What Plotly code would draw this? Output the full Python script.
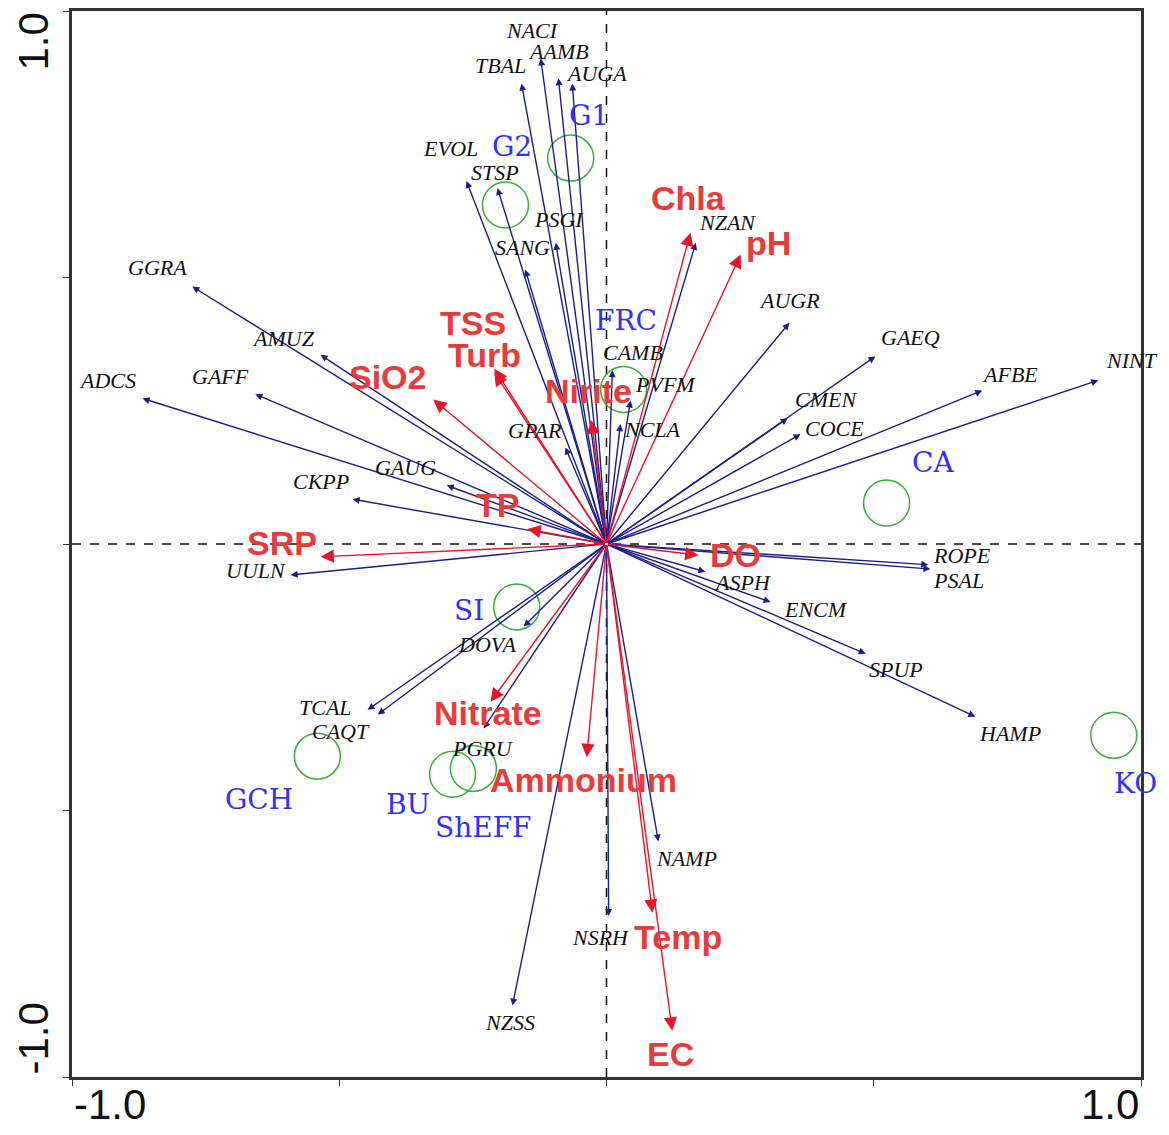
import plotly.graph_objects as go

# ---------------- data (CCA biplot scores) ----------------
species = ["NACI", "AAMB", "TBAL", "AUGA", "EVOL", "STSP", "PSGI", "SANG", "GGRA", "AMUZ",
           "ADCS", "GAFF", "GAUG", "CKPP", "UULN", "GPAR", "CAMB", "PVFM", "NCLA", "NZAN",
           "AUGR", "GAEQ", "CMEN", "COCE", "AFBE", "NINT", "ROPE", "PSAL", "ASPH", "ENCM",
           "SPUP", "HAMP", "DOVA", "TCAL", "CAQT", "PGRU", "NAMP", "NSRH", "NZSS"]
sp_x = [-0.123, -0.090, -0.159, -0.064, -0.262, -0.204, -0.095, -0.152, -0.775, -0.535,
        -0.868, -0.657, -0.299, -0.475, -0.591, -0.077, 0.011, 0.045, 0.026, 0.167,
        0.342, 0.503, 0.339, 0.363, 0.703, 0.920, 0.602, 0.606, 0.185, 0.307,
        0.485, 0.690, -0.155, -0.447, -0.428, -0.230, 0.097, 0.004, -0.176]
sp_y = [0.911, 0.874, 0.864, 0.864, 0.681, 0.668, 0.565, 0.515, 0.483, 0.355,
        0.273, 0.281, 0.110, 0.084, -0.058, 0.181, 0.326, 0.269, 0.225, 0.565,
        0.415, 0.352, 0.236, 0.206, 0.288, 0.307, -0.039, -0.047, -0.052, -0.109,
        -0.206, -0.324, -0.155, -0.311, -0.320, -0.346, -0.558, -0.698, -0.866]

env = ["Chla", "pH", "TSS", "Turb", "SiO2", "Nirite", "TP", "SRP", "DO",
       "Nitrate", "Ammonium", "Temp", "EC"]
env_x = [0.157, 0.251, -0.210, -0.210, -0.324, -0.028, -0.148, -0.535, 0.172,
         -0.217, -0.037, 0.086, 0.123]
env_y = [0.584, 0.543, 0.329, 0.322, 0.271, 0.232, 0.028, -0.024, -0.021,
         -0.296, -0.400, -0.692, -0.913]

samples = ["G1", "G2", "FRC", "CA", "SI", "GCH", "BU", "ShEFF", "KO"]
smp_x = [-0.067, -0.189, 0.032, 0.524, -0.168, -0.541, -0.288, -0.249, 0.949]
smp_y = [0.724, 0.636, 0.290, 0.077, -0.118, -0.398, -0.432, -0.421, -0.359]

axis_ticks = [-1.0, -0.5, 0.0, 0.5, 1.0]
tick_text = ["-1.0", "1.0"]

# ---------------- label placement (pixel offsets, y downward) ----------------
sp_off = [(-8, -28), (0, -27), (-21, -18), (24, -10), (-16, -33), (-2, -15), (3, -23), (-3, -22),
          (-35, -19), (-37, -16), (-35, -18), (-35, -18), (-41, -18), (-32, -18), (-35, -4),
          (-30, -17), (21, -18), (35, -16), (32, 5), (32, -20), (0, -22), (35, -19), (38, -19),
          (34, -6), (28, -16), (34, -20), (34, -9), (28, 11), (37, 11), (45, 7), (30, 16),
          (35, 17), (-36, 18), (-42, -2), (-37, 17), (-1, 20), (28, 17), (-8, 21), (-2, 17)]
env_off = [(-2, -35), (28, -12), (-21, -46), (-10, -17), (-46, -23), (-3, -29), (-30, -24),
           (-39, -14), (37, 0), (-3, 11), (-3, 23), (26, 24), (-2, 23)]
smp_off = [(18, -43), (7, -59), (2, -69), (46, -40), (-48, 4), (-58, 43), (-45, 30),
           (10, 59), (22, 48)]

NAVY = "#1c1c8a"
RED = "#e8152a"
RED_TXT = "#e63c3c"
GREEN = "#3aae3a"
BLUE_TXT = "#3030ff"

fig = go.Figure()

# sample circles
fig.add_trace(go.Scatter(
    x=smp_x, y=smp_y, mode="markers",
    marker=dict(symbol="circle-open", size=46, color=GREEN, line=dict(width=1.5, color=GREEN)),
    hoverinfo="text", text=samples, showlegend=False))

ann = []
# species arrows
for n, x, y in zip(species, sp_x, sp_y):
    ann.append(dict(x=x, y=y, ax=0, ay=0, xref="x", yref="y", axref="x", ayref="y",
                    text="", showarrow=True, arrowhead=2, arrowsize=1.0, arrowwidth=1.4,
                    arrowcolor=NAVY, standoff=0, startstandoff=0))
# env arrows
for n, x, y in zip(env, env_x, env_y):
    ann.append(dict(x=x, y=y, ax=0, ay=0, xref="x", yref="y", axref="x", ayref="y",
                    text="", showarrow=True, arrowhead=2, arrowsize=1.9, arrowwidth=1.4,
                    arrowcolor=RED, standoff=0, startstandoff=0))
# species labels
for n, x, y, (dx, dy) in zip(species, sp_x, sp_y, sp_off):
    ann.append(dict(x=x, y=y, xref="x", yref="y", text="<i>%s</i>" % n, showarrow=False,
                    xshift=dx, yshift=-dy,
                    font=dict(family="Liberation Serif", size=22, color="#111111"),
                    xanchor="center", yanchor="middle"))
# env labels
for n, x, y, (dx, dy) in zip(env, env_x, env_y, env_off):
    ann.append(dict(x=x, y=y, xref="x", yref="y", text="<b>%s</b>" % n, showarrow=False,
                    xshift=dx, yshift=-dy,
                    font=dict(family="Liberation Sans", size=34, color=RED_TXT),
                    xanchor="center", yanchor="middle"))
# sample labels
for n, x, y, (dx, dy) in zip(samples, smp_x, smp_y, smp_off):
    ann.append(dict(x=x, y=y, xref="x", yref="y", text=n, showarrow=False,
                    xshift=dx, yshift=-dy,
                    font=dict(family="DejaVu Serif", size=28, color=BLUE_TXT),
                    xanchor="center", yanchor="middle"))

# axis end labels
TF = dict(family="Liberation Sans", size=42, color="#111111")
ann.append(dict(x=axis_ticks[0], y=0, xref="x", yref="paper", text=tick_text[0], showarrow=False,
                xanchor="left", yanchor="top", yshift=-2, font=TF))
ann.append(dict(x=axis_ticks[-1], y=0, xref="x", yref="paper", text=tick_text[1], showarrow=False,
                xanchor="right", yanchor="top", yshift=-2, font=TF))
ann.append(dict(x=0, y=axis_ticks[-1], xref="paper", yref="y", text=tick_text[1], showarrow=False,
                xanchor="right", yanchor="top", xshift=-14, textangle=-90, font=TF))
ann.append(dict(x=0, y=axis_ticks[0], xref="paper", yref="y", text=tick_text[0], showarrow=False,
                xanchor="right", yanchor="bottom", xshift=-14, textangle=-90, font=TF))

shapes = [
    dict(type="line", xref="x", yref="paper", x0=0, x1=0, y0=0, y1=1,
         line=dict(color="#111111", width=1.5, dash="dash"), layer="below"),
    dict(type="line", xref="paper", yref="y", x0=0, x1=1, y0=0, y1=0,
         line=dict(color="#111111", width=1.5, dash="dash"), layer="below"),
]

fig.update_layout(
    width=1169, height=1135,
    margin=dict(l=72, r=28, t=8, b=58),
    paper_bgcolor="white", plot_bgcolor="white",
    annotations=ann, shapes=shapes, showlegend=False,
    xaxis=dict(range=[-1, 1], tickvals=axis_ticks, showticklabels=False, ticks="outside",
               ticklen=6, tickcolor="#333", showgrid=False, zeroline=False,
               showline=True, mirror=True, linecolor="#333", linewidth=2.5),
    yaxis=dict(range=[-1, 1], tickvals=axis_ticks, showticklabels=False, ticks="outside",
               ticklen=6, tickcolor="#333", showgrid=False, zeroline=False,
               showline=True, mirror=True, linecolor="#333", linewidth=2.5),
)

fig.write_html("out.html")
